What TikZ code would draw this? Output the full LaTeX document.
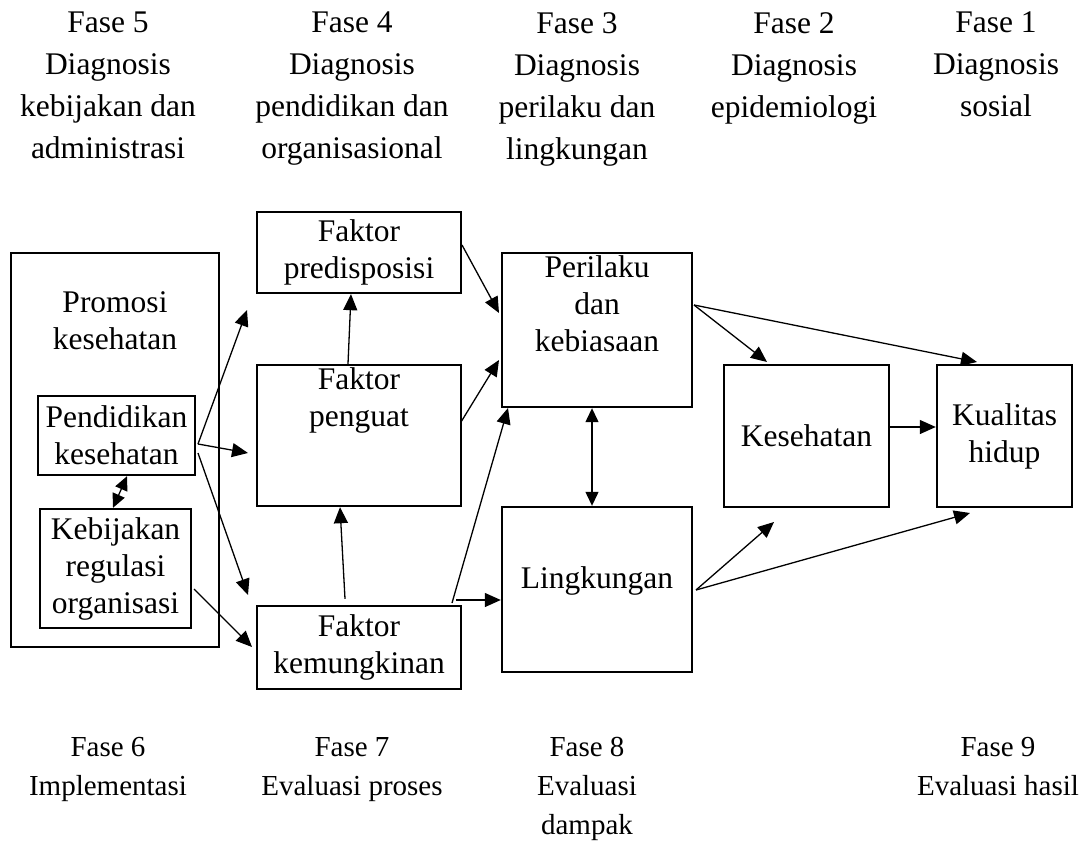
\documentclass[tikz,border=0pt]{standalone}
\usepackage{fontspec}
\setmainfont{Liberation Serif}
\usetikzlibrary{arrows.meta}

\begin{document}
\begin{tikzpicture}[x=1pt,y=1pt]

                \tikzset{txt/.style = {align=center,font=\fontsize{31.5}{37}\selectfont}}
                \tikzset{box/.style = {shape=rectangle,draw,line width=2.4pt,inner sep=3pt,txt}}
                \tikzset{phase/.style = {anchor=north,inner sep=0pt,align=center,font=\fontsize{31.5}{42}\selectfont}}
                \tikzset{evalphase/.style = {anchor=north,inner sep=0pt,align=center,font=\fontsize{29}{39}\selectfont}}
                \tikzset{edge/.style = {->,> = {Triangle[length=16pt,width=14pt]},line width=1.3pt}}
                \tikzset{twoway/.style = {<->,> = {Triangle[length=14pt,width=13pt]},line width=1.3pt}}
                \useasboundingbox (0,0) rectangle (1092,-842);

                \node[phase] (h5) at (108,-12) {Fase 5\\Diagnosis\\kebijakan dan\\administrasi};
                \node[phase] (h4) at (352,-12) {Fase 4\\Diagnosis\\pendidikan dan\\organisasional};
                \node[phase] (h3) at (577,-12) {Fase 3\\Diagnosis\\perilaku dan\\lingkungan};
                \node[phase] (h2) at (794,-12) {Fase 2\\Diagnosis\\epidemiologi};
                \node[phase] (h1) at (996,-12) {Fase 1\\Diagnosis\\sosial};

                \node[box,line width=2pt,minimum width=208pt,minimum height=394pt,
                      label={[txt,anchor=north,label distance=-36pt]north:{Promosi\\kesehatan}}] (promosi) at (115,-450) {};
                \node[box,minimum width=157pt,minimum height=79pt] (pendidikan) at (116.5,-435.5) {Pendidikan\\kesehatan};
                \node[box,minimum width=151pt,minimum height=119pt] (kebijakan) at (115.5,-568.5) {Kebijakan\\regulasi\\organisasi};

                \node[box,minimum width=204pt,minimum height=81pt] (predisposisi) at (359,-252.5) {Faktor\\predisposisi};
                \node[box,minimum width=204pt,minimum height=141pt,
                      label={[txt,anchor=north]north:{Faktor\\penguat}}] (penguat) at (359,-435.5) {};
                \node[box,minimum width=204pt,minimum height=83pt] (kemungkinan) at (359,-647.5) {Faktor\\kemungkinan};

                \node[box,minimum width=190pt,minimum height=154pt,
                      label={[txt,anchor=north]north:{Perilaku\\dan\\kebiasaan}}] (perilaku) at (597,-330) {};
                \node[box,minimum width=190pt,minimum height=165pt,text depth=24pt] (lingkungan) at (597,-589.5) {Lingkungan};
                \node[box,minimum width=165pt,minimum height=142pt] (kesehatan) at (806.5,-436) {Kesehatan};
                \node[box,minimum width=135pt,minimum height=142pt] (kualitas) at (1004.5,-436) {Kualitas\\hidup};

                \node[evalphase] (f6) at (108,-737) {Fase 6\\Implementasi};
                \node[evalphase] (f7) at (352,-737) {Fase 7\\Evaluasi proses};
                \node[evalphase] (f8) at (587,-737) {Fase 8\\Evaluasi\\dampak};
                \node[evalphase] (f9) at (998,-737) {Fase 9\\Evaluasi hasil};

                \coordinate (pd1) at (198,-444);
                \coordinate (pd2) at (198,-453);
                \coordinate (kb1) at (194,-589);
                \coordinate (t1) at (247,-310);
                \coordinate (t2) at (248,-453);
                \coordinate (t3) at (248,-595);
                \coordinate (t4) at (252,-647);
                \coordinate (ps1) at (462,-245);
                \coordinate (pg1) at (461,-422);
                \coordinate (km1) at (452,-603);
                \coordinate (km2) at (456,-600);
                \coordinate (t5) at (499,-313);
                \coordinate (t6) at (499,-360);
                \coordinate (t7) at (508,-408);
                \coordinate (pr1) at (694,-305);
                \coordinate (lk1) at (696,-590);
                \coordinate (t8) at (767,-362);
                \coordinate (t9) at (977,-362);
                \coordinate (t10) at (774,-522);
                \coordinate (t11) at (970,-513);

                \draw[edge] (pd1) -- (t1);
                \draw[edge] (pd1) -- (t2);
                \draw[edge] (pd2) -- (t3);
                \draw[edge] (kb1) -- (t4);
                \draw[twoway] ([xshift=-2.5pt]kebijakan.north) -- ([xshift=10.5pt]pendidikan.south);
                \draw[edge] ([xshift=-11pt]penguat.north) -- ([xshift=-8pt]predisposisi.south);
                \draw[edge] ([xshift=-14pt,yshift=6pt]kemungkinan.north) -- ([xshift=-19pt]penguat.south);
                \draw[edge] (ps1) -- (t5);
                \draw[edge] (pg1) -- (t6);
                \draw[edge] (km1) -- (t7);
                \draw[edge] (km2) -- (km2 -| lingkungan.west);
                \draw[twoway] ([xshift=-5pt]perilaku.south) -- ([xshift=-5pt]lingkungan.north);
                \draw[edge] (pr1) -- (t8);
                \draw[edge] (pr1) -- (t9);
                \draw[edge] ([yshift=9pt]kesehatan.east) -- ([yshift=9pt]kualitas.west);
                \draw[edge] (lk1) -- (t10);
                \draw[edge] (lk1) -- (t11);
            \end{tikzpicture}
\end{document}
